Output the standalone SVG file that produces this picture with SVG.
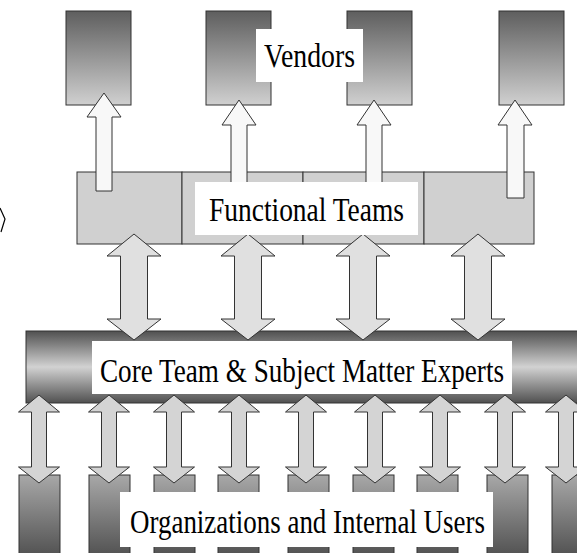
<svg xmlns="http://www.w3.org/2000/svg" xmlns:xlink="http://www.w3.org/1999/xlink" width="577" height="553" viewBox="0 0 577 553">
<style>
.ln{stroke:#333;stroke-width:1}
.lbl{fill:#fff;stroke:none}
.up{fill:#f8f8f8;stroke:#333;stroke-width:1}
.mid{fill:#e0e0e0;stroke:#333;stroke-width:1}
.low{fill:#d4d4d4;stroke:#333;stroke-width:1}
</style>
<defs>
<linearGradient id="gV" x1="0" y1="0" x2="0" y2="1"><stop offset="0" stop-color="#5e5e5e"/><stop offset="1" stop-color="#d0d0d0"/></linearGradient>
<linearGradient id="gC" x1="0" y1="0" x2="0" y2="1"><stop offset="0" stop-color="#505050"/><stop offset="0.5" stop-color="#d2d2d2"/><stop offset="1" stop-color="#505050"/></linearGradient>
<linearGradient id="gO" x1="0" y1="0" x2="0" y2="1"><stop offset="0" stop-color="#a8a8a8"/><stop offset="1" stop-color="#484848"/></linearGradient>
<path id="mArr" d="M0,234 L27,256 L13.5,256 L13.5,319 L27,319 L0,340 L-27,319 L-13.5,319 L-13.5,256 L-27,256 Z"/>
<path id="lArr" d="M0,395 L20.5,412 L7.5,412 L7.5,467 L20.5,467 L0,483 L-20.5,467 L-7.5,467 L-7.5,412 L-20.5,412 Z"/>
</defs>
<rect width="577" height="553" fill="#fff"/>

<g id="edge-mark">
<polyline points="0,208 5,219 1,232" fill="none" stroke="#000" stroke-width="1.2"/>
</g>

<g id="vendor1"><rect x="66" y="11" width="65" height="94" fill="url(#gV)" class="ln"/></g>
<g id="vendor2"><rect x="206" y="11" width="65" height="94" fill="url(#gV)" class="ln"/></g>
<g id="vendor3"><rect x="347" y="11" width="65" height="94" fill="url(#gV)" class="ln"/></g>
<g id="vendor4"><rect x="499" y="11" width="65" height="94" fill="url(#gV)" class="ln"/></g>

<g id="functional-teams">
<rect x="77" y="172" width="105" height="72" fill="#d0d0d0" class="ln"/>
<rect x="182" y="172" width="121" height="72" fill="#d0d0d0" class="ln"/>
<rect x="303" y="172" width="121" height="72" fill="#d0d0d0" class="ln"/>
<rect x="424" y="172" width="110" height="72" fill="#d0d0d0" class="ln"/>
</g>

<g id="core-team">
<rect x="26" y="331" width="552" height="72" fill="url(#gC)" class="ln"/>
</g>

<g id="organizations">
<rect x="19" y="475" width="41" height="90" fill="url(#gO)" class="ln"/>
<rect x="89" y="475" width="41" height="90" fill="url(#gO)" class="ln"/>
<rect x="154" y="475" width="41" height="90" fill="url(#gO)" class="ln"/>
<rect x="218" y="475" width="41" height="90" fill="url(#gO)" class="ln"/>
<rect x="288" y="475" width="41" height="90" fill="url(#gO)" class="ln"/>
<rect x="353" y="475" width="41" height="90" fill="url(#gO)" class="ln"/>
<rect x="417" y="475" width="41" height="90" fill="url(#gO)" class="ln"/>
<rect x="487" y="475" width="41" height="90" fill="url(#gO)" class="ln"/>
<rect x="552" y="475" width="41" height="90" fill="url(#gO)" class="ln"/>
</g>

<g id="connectors">
<path class="up" d="M104,93 L121,117 L112,117 L112,191 L96,191 L96,117 L87,117 Z"/>
<path class="up" d="M239,100 L256,125 L247,125 L247,200 L231,200 L231,125 L222,125 Z"/>
<path class="up" d="M374,100 L391,125 L382,125 L382,200 L366,200 L366,125 L357,125 Z"/>
<path class="up" d="M515,100 L532,125 L524,125 L524,198 L507,198 L507,125 L498,125 Z"/>
<use xlink:href="#mArr" class="mid" x="134"/>
<use xlink:href="#mArr" class="mid" x="248"/>
<use xlink:href="#mArr" class="mid" x="363"/>
<use xlink:href="#mArr" class="mid" x="478"/>
<use xlink:href="#lArr" class="low" x="39"/>
<use xlink:href="#lArr" class="low" x="109"/>
<use xlink:href="#lArr" class="low" x="174"/>
<use xlink:href="#lArr" class="low" x="239"/>
<use xlink:href="#lArr" class="low" x="306"/>
<use xlink:href="#lArr" class="low" x="375"/>
<use xlink:href="#lArr" class="low" x="440"/>
<use xlink:href="#lArr" class="low" x="505"/>
<use xlink:href="#lArr" class="low" x="566"/>
</g>

<g font-family="'Liberation Serif', 'Times New Roman', serif" font-size="33" fill="#000" text-anchor="middle">
<g id="label-vendors">
<rect class="lbl" x="256" y="29" width="107" height="53"/>
<text x="309.5" y="67" textLength="91" lengthAdjust="spacingAndGlyphs">Vendors</text>
</g>
<g id="label-functional">
<rect class="lbl" x="195" y="182" width="223" height="53"/>
<text x="306.5" y="221" textLength="195" lengthAdjust="spacingAndGlyphs">Functional Teams</text>
</g>
<g id="label-core">
<rect class="lbl" x="92" y="341" width="420" height="53"/>
<text x="302" y="382" textLength="404" lengthAdjust="spacingAndGlyphs">Core Team &amp; Subject Matter Experts</text>
</g>
<g id="label-org">
<rect class="lbl" x="120" y="492" width="373" height="55"/>
<text x="307.5" y="533" textLength="355" lengthAdjust="spacingAndGlyphs">Organizations and Internal Users</text>
</g>
</g>
</svg>
